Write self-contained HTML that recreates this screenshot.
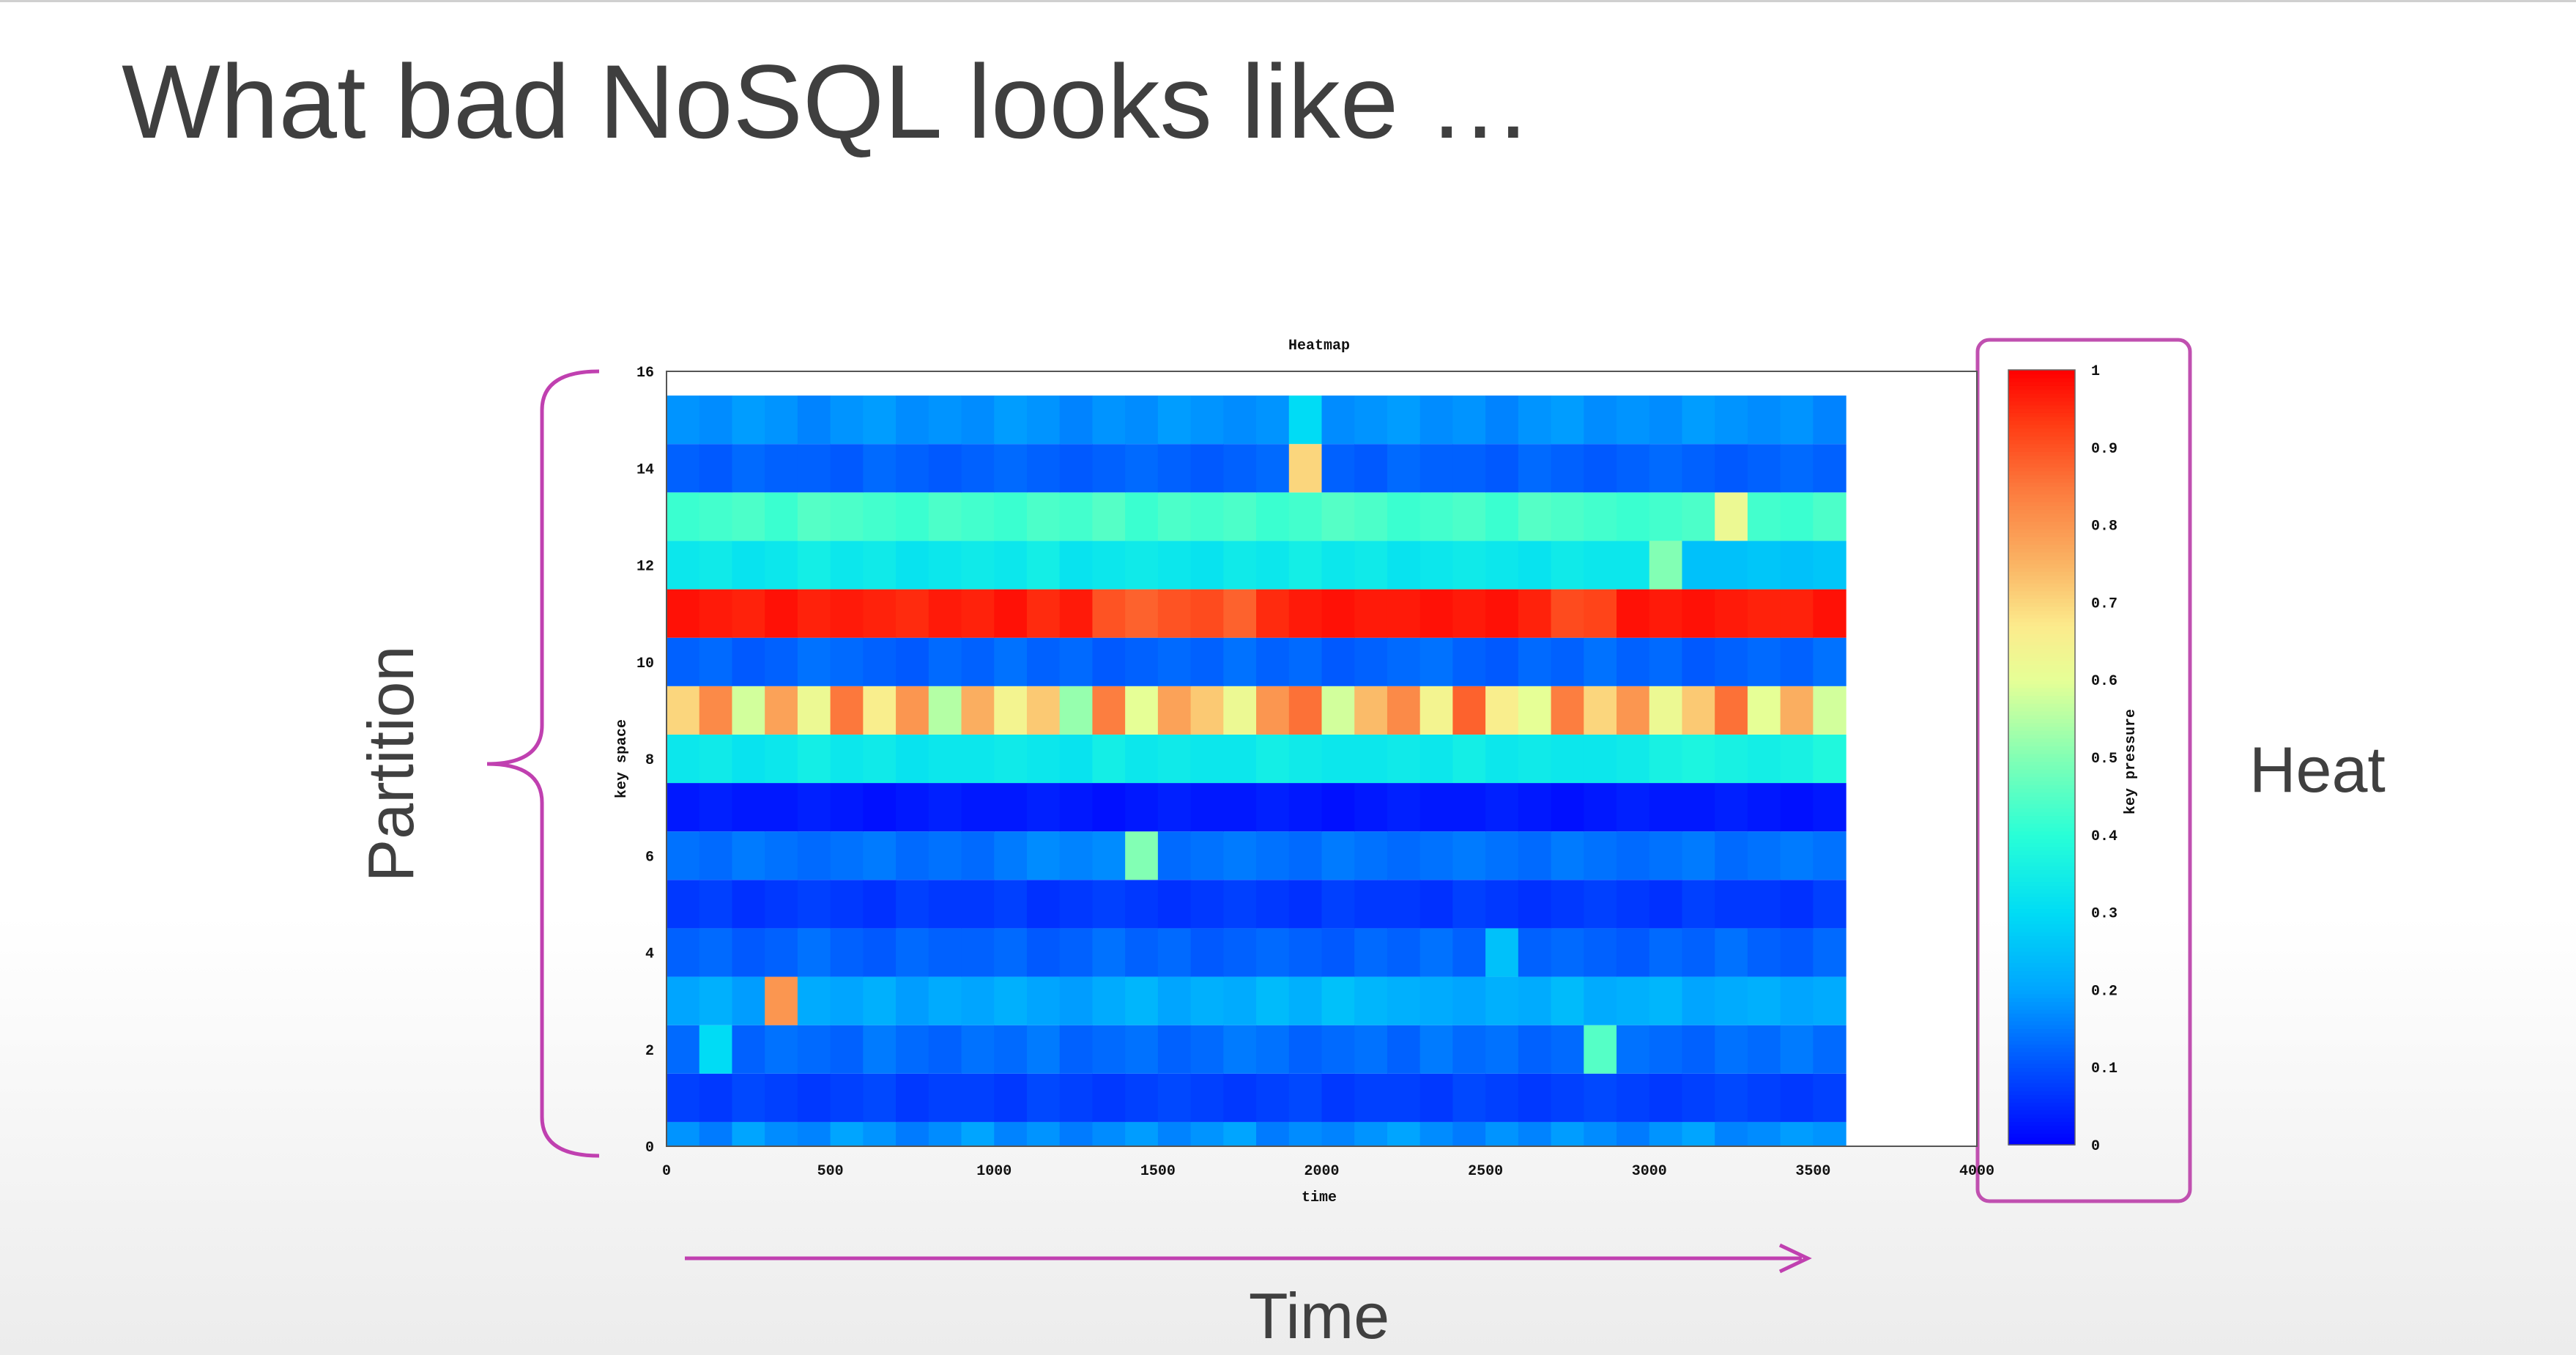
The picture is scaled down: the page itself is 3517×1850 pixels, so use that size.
<!DOCTYPE html>
<html><head><meta charset="utf-8">
<style>
html,body{margin:0;padding:0;}
body{width:3517px;height:1850px;overflow:hidden;background:linear-gradient(#ffffff 0px,#ffffff 1250px,#ececec 1850px);font-family:"Liberation Sans",sans-serif;position:relative;}
.abs{position:absolute;}
</style></head>
<body>
<div class="abs" style="left:0;top:0;width:3517px;height:3px;background:#d0d0d0"></div>
<div class="abs" style="left:166px;top:58px;font-size:143px;color:#3f3f3f;letter-spacing:0px;white-space:nowrap">What bad NoSQL looks like …</div>
<div class="abs" style="left:534px;top:1043px;font-size:88px;color:#404040;transform:translate(-50%,-50%) rotate(-90deg);white-space:nowrap">Partition</div>
<div class="abs" style="left:3071px;top:1000px;font-size:88px;color:#404040;white-space:nowrap">Heat</div>
<div class="abs" style="left:1801px;top:1797px;font-size:88px;color:#404040;transform:translate(-50%,-50%);white-space:nowrap">Time</div>
<svg class="abs" style="left:0;top:0" width="3517" height="1850">
  <path d="M818,507 Q740,507 740,560 L740,990 Q740,1043 665,1043 Q740,1043 740,1096 L740,1525 Q740,1578 818,1578" fill="none" stroke="#c040b0" stroke-width="5"/>
  <line x1="935" y1="1718" x2="2460" y2="1718" stroke="#c040b0" stroke-width="5"/>
  <path d="M2430,1700 L2468,1718 L2430,1736" fill="none" stroke="#c040b0" stroke-width="5"/>
  <rect x="2700" y="464" width="290" height="1176" rx="16" fill="none" stroke="#c050b0" stroke-width="5"/>
  <g id="plot"></g>
</svg>
<script>
const timeTicks=[0,500,1000,1500,2000,2500,3000,3500,4000];
const keyTicks=[0,2,4,6,8,10,12,14,16];
const cbTicks=[0,0.1,0.2,0.3,0.4,0.5,0.6,0.7,0.8,0.9,1];
const cbTickLabels=["0","0.1","0.2","0.3","0.4","0.5","0.6","0.7","0.8","0.9","1"];
const colStep=100;
const row0=[.18,.15,.2,.17,.16,.2,.18,.15,.17,.2,.16,.18,.15,.17,.19,.16,.18,.2,.15,.17,.16,.18,.2,.17,.15,.18,.16,.19,.17,.15,.18,.2,.16,.17,.19,.18];
const row1=[.08,.07,.09,.08,.07,.08,.09,.07,.08,.08,.07,.09,.08,.07,.08,.09,.08,.07,.08,.09,.07,.08,.08,.07,.09,.08,.07,.08,.09,.08,.07,.08,.09,.08,.07,.08];
const row2=[.13,.3,.12,.14,.13,.12,.15,.13,.12,.14,.13,.15,.12,.13,.14,.12,.13,.15,.14,.12,.13,.14,.12,.15,.13,.14,.12,.13,.45,.14,.13,.12,.14,.13,.15,.13];
const row3=[.2,.22,.19,.8,.21,.2,.22,.19,.21,.2,.22,.2,.19,.21,.23,.2,.22,.21,.24,.22,.25,.23,.22,.21,.2,.22,.21,.24,.21,.22,.23,.2,.21,.22,.2,.21];
const row4=[.12,.13,.11,.12,.14,.12,.11,.13,.12,.12,.13,.11,.12,.14,.12,.13,.11,.12,.13,.12,.11,.13,.12,.14,.12,.25,.12,.13,.12,.11,.13,.12,.14,.12,.11,.13];
const row5=[.07,.08,.06,.07,.08,.07,.06,.08,.07,.07,.08,.06,.07,.08,.07,.06,.07,.08,.07,.06,.08,.07,.07,.06,.08,.07,.06,.07,.08,.07,.06,.08,.07,.07,.06,.08];
const row6=[.14,.13,.15,.14,.13,.14,.15,.13,.14,.13,.15,.17,.16,.17,.5,.13,.14,.15,.14,.13,.15,.14,.13,.14,.15,.14,.13,.15,.14,.13,.14,.15,.13,.14,.15,.14];
const row7=[.03,.04,.03,.03,.04,.03,.02,.03,.04,.03,.03,.04,.03,.02,.03,.04,.03,.03,.04,.03,.02,.03,.04,.03,.03,.04,.03,.02,.03,.04,.03,.03,.04,.03,.02,.03];
const row8=[.33,.34,.32,.33,.35,.33,.34,.32,.33,.33,.34,.33,.32,.35,.33,.34,.33,.33,.35,.34,.33,.33,.34,.33,.35,.33,.34,.33,.33,.34,.36,.37,.36,.35,.36,.38];
const row9=[.7,.82,.58,.78,.62,.85,.66,.8,.55,.76,.64,.72,.52,.84,.6,.78,.72,.62,.8,.86,.58,.74,.82,.64,.88,.66,.6,.84,.7,.8,.62,.72,.86,.6,.76,.58];
const row10=[.12,.13,.11,.12,.14,.13,.12,.11,.13,.12,.14,.12,.13,.11,.12,.13,.12,.14,.12,.13,.11,.12,.13,.14,.12,.11,.13,.12,.14,.12,.13,.11,.12,.13,.12,.14];
const row11=[.98,.97,.96,.98,.96,.97,.96,.95,.97,.96,.98,.95,.97,.9,.88,.9,.91,.88,.95,.97,.98,.97,.97,.98,.97,.98,.96,.91,.92,.98,.97,.98,.97,.96,.96,.98];
const row12=[.33,.34,.32,.33,.35,.33,.34,.32,.33,.34,.33,.35,.32,.33,.34,.33,.32,.34,.33,.35,.33,.34,.32,.33,.34,.33,.32,.34,.33,.33,.5,.25,.25,.26,.25,.26];
const row13=[.42,.43,.44,.42,.45,.44,.43,.42,.44,.43,.42,.44,.43,.45,.42,.44,.43,.44,.42,.43,.45,.44,.42,.43,.44,.42,.45,.44,.43,.42,.43,.44,.62,.43,.42,.44];
const row14=[.12,.11,.13,.12,.12,.11,.13,.12,.11,.12,.13,.12,.11,.12,.13,.12,.11,.12,.13,.7,.12,.11,.13,.12,.12,.11,.13,.12,.11,.12,.13,.12,.11,.12,.13,.12];
const row15=[.18,.17,.19,.18,.16,.18,.19,.17,.18,.17,.19,.18,.16,.18,.17,.19,.18,.17,.18,.3,.17,.18,.19,.17,.18,.16,.18,.19,.17,.18,.17,.19,.18,.17,.18,.16];
const rows=[row0,row1,row2,row3,row4,row5,row6,row7,row8,row9,row10,row11,row12,row13,row14,row15];

const PX0=910,PX1=2699,PY0=1565,PY1=507;
const xs=t=>PX0+(t/4000)*(PX1-PX0);
const ys=k=>PY0-(k/16)*(PY0-PY1);
const CBY0=1563,CBY1=505,CBX=2742,CBW=91;
const cys=v=>CBY0-v*(CBY0-CBY1);
const stops=[[0,[0,0,255]],[0.1,[0,80,255]],[0.2,[0,165,255]],[0.3,[0,220,245]],[0.4,[40,255,215]],[0.5,[130,255,180]],[0.6,[230,255,150]],[0.67,[252,235,140]],[0.75,[250,180,100]],[0.85,[252,120,60]],[0.93,[255,60,20]],[1,[255,0,0]]];
function cmap(v){v=Math.max(0,Math.min(1,v));for(let i=1;i<stops.length;i++){if(v<=stops[i][0]){const a=stops[i-1],b=stops[i];const f=(v-a[0])/(b[0]-a[0]);const c=a[1].map((x,j)=>Math.round(x+(b[1][j]-x)*f));return `rgb(${c[0]},${c[1]},${c[2]})`;}}return 'rgb(255,0,0)';}
const NS='http://www.w3.org/2000/svg';
const g=document.getElementById('plot');
function mk(tag,attrs,parent){const e=document.createElementNS(NS,tag);for(const k in attrs)e.setAttribute(k,attrs[k]);(parent||g).appendChild(e);return e;}
const mono='"Liberation Mono",monospace';
const frame=mk('rect',{x:PX0,y:PY1,width:PX1-PX0,height:PY0-PY1,fill:'#fff',stroke:'#555','stroke-width':2});


rows.forEach((r,k)=>{
  const yTop=Math.max(ys(k+0.5),PY1), yBot=Math.min(ys(k-0.5),PY0);
  r.forEach((v,i)=>{
    const c=mk('rect',{x:xs(i*colStep),y:yTop,width:xs((i+1)*colStep)-xs(i*colStep)+0.6,height:yBot-yTop,fill:cmap(v)});
    
    
  });
});
mk('rect',{x:PX0,y:PY1,width:PX1-PX0,height:PY0-PY1,fill:'none',stroke:'#555','stroke-width':2});
timeTicks.forEach(t=>{
  const tx=mk('text',{x:xs(t),y:1604,'font-family':mono,'font-size':20,'font-weight':'bold','text-anchor':'middle',fill:'#111'});
  tx.textContent=String(t);
  
  
});
keyTicks.forEach(k=>{
  const tx=mk('text',{x:893,y:ys(k)+7,'font-family':mono,'font-size':20,'font-weight':'bold','text-anchor':'end',fill:'#111'});
  tx.textContent=String(k);
  
  
});
const xt=mk('text',{x:1801,y:1640,'font-family':mono,'font-size':20,'font-weight':'bold','text-anchor':'middle',fill:'#111'});
xt.textContent='time';


const yt=mk('text',{x:0,y:0,'font-family':mono,'font-size':20,'font-weight':'bold','text-anchor':'middle',fill:'#111',transform:'translate(854,1036) rotate(-90)'});
yt.textContent='key space';


const ct=mk('text',{x:1801,y:477,'font-family':mono,'font-size':20,'font-weight':'bold','text-anchor':'middle',fill:'#111'});
ct.textContent='Heatmap';


for(let i=0;i<200;i++){
  const v0=i/200,v1=(i+1)/200;
  const s=mk('rect',{x:CBX,y:cys(v1),width:CBW,height:cys(v0)-cys(v1)+0.8,fill:cmap((v0+v1)/2)});
  
  
}
const cbf=mk('rect',{x:CBX,y:CBY1,width:CBW,height:CBY0-CBY1,fill:'none',stroke:'#666','stroke-width':1.5});


cbTicks.forEach((v,i)=>{
  const tx=mk('text',{x:2855,y:cys(v)+7,'font-family':mono,'font-size':20,'font-weight':'bold',fill:'#111'});
  tx.textContent=cbTickLabels[i];
  
  
});
const cl=mk('text',{x:0,y:0,'font-family':mono,'font-size':20,'font-weight':'bold','text-anchor':'middle',fill:'#111',transform:'translate(2914,1040) rotate(-90)'});
cl.textContent='key pressure';


</script>
</body></html>
